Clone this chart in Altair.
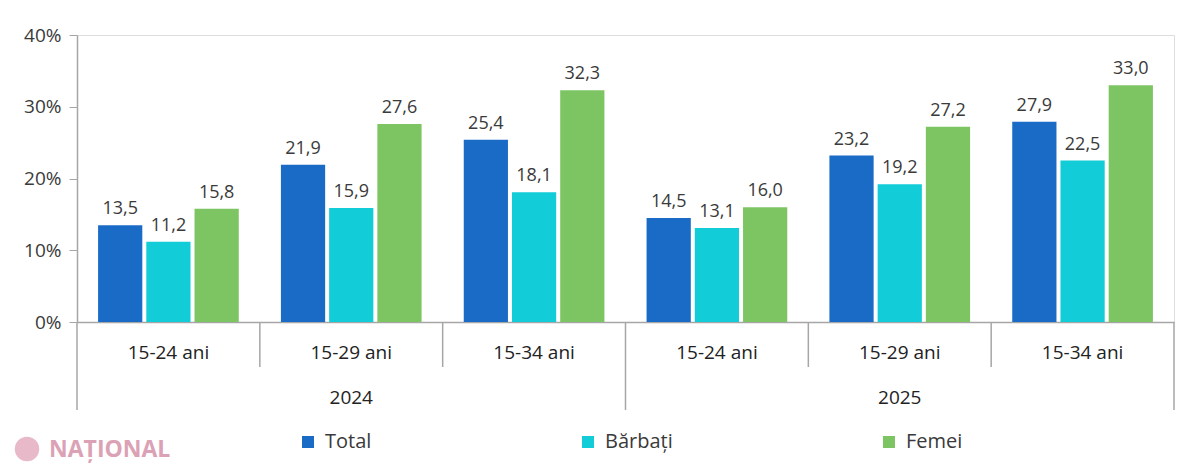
import altair as alt
import pandas as pd

years = ["2024", "2025"]
ages = ["15-24 ani", "15-29 ani", "15-34 ani"]
series = ["Total", "Bărbați", "Femei"]
total = [13.5, 21.9, 25.4, 14.5, 23.2, 27.9]
barbati = [11.2, 15.9, 18.1, 13.1, 19.2, 22.5]
femei = [15.8, 27.6, 32.3, 16.0, 27.2, 33.0]
colors = ["#1A6BC6", "#12CDD8", "#7DC563"]
y_ticks = [0, 10, 20, 30, 40]

W, H = 1097, 287
FONT = "Open Sans"
TXT = "#3A3A3A"
GRAY = "#A6A6A6"

cats, rows, cat_rows = [], [], []
for yi, yr in enumerate(years):
    for ai, ag in enumerate(ages):
        i = yi * len(ages) + ai
        cat = f"{yr} {ag}"
        cats.append(cat)
        cat_rows.append(dict(cat=cat, year=yr, age=ag,
                             kind="outer" if ai == 0 else "inner",
                             mid=(ai == 1)))
        for s, vals in zip(series, [total, barbati, femei]):
            rows.append(dict(cat=cat, year=yr, age=ag, series=s, value=vals[i],
                             label=f"{vals[i]:.1f}".replace(".", ",")))

df = pd.DataFrame(rows)
cdf = pd.DataFrame(cat_rows)

xscale = alt.Scale(domain=cats, paddingInner=0, paddingOuter=0)
xoff = alt.XOffset("series:N", sort=series,
                   scale=alt.Scale(domain=series, paddingInner=0.083, paddingOuter=0.437))
yscale = alt.Scale(domain=[0, 40], nice=False)

bars = alt.Chart(df).mark_bar().encode(
    x=alt.X("cat:N", scale=xscale, sort=cats,
            axis=alt.Axis(labels=False, ticks=False, title=None, domain=True,
                          domainColor=GRAY, domainWidth=1.5)),
    xOffset=xoff,
    y=alt.Y("value:Q", scale=yscale,
            axis=alt.Axis(values=y_ticks, labelExpr="datum.value + '%'", title=None,
                          grid=False, domainColor=GRAY, domainWidth=1.5, tickColor=GRAY,
                          tickSize=8, labelPadding=8, labelFontSize=19, labelColor=TXT,
                          labelFont=FONT)),
    color=alt.Color("series:N", sort=series,
                    scale=alt.Scale(domain=series, range=colors),
                    legend=alt.Legend(title=None, orient="none", direction="horizontal",
                                      legendX=221, legendY=397, symbolType="square",
                                      symbolSize=144, symbolStrokeWidth=0,
                                      columnPadding=206, labelOffset=7,
                                      labelFontSize=20, labelColor=TXT, labelFont=FONT)),
)

values = alt.Chart(df).mark_text(baseline="alphabetic", dy=-11, fontSize=18,
                                 color=TXT, font=FONT).encode(
    x=alt.X("cat:N", scale=xscale, sort=cats),
    xOffset=xoff,
    y=alt.Y("value:Q", scale=yscale),
    text="label:N",
)

inner = alt.Chart(cdf).transform_filter("datum.kind == 'inner'").mark_rule(
    color=GRAY, strokeWidth=1.5).encode(
    x=alt.X("cat:N", scale=xscale, sort=cats, bandPosition=0),
    y=alt.value(H), y2=alt.value(H + 45),
)
outer = alt.Chart(cdf).transform_filter("datum.kind == 'outer'").mark_rule(
    color=GRAY, strokeWidth=1.5).encode(
    x=alt.X("cat:N", scale=xscale, sort=cats, bandPosition=0),
    y=alt.value(H), y2=alt.value(H + 88),
)
end = alt.Chart(cdf).transform_filter(f"datum.cat == '{cats[-1]}'").mark_rule(
    color=GRAY, strokeWidth=1.5).encode(
    x=alt.X("cat:N", scale=xscale, sort=cats, bandPosition=1),
    y=alt.value(H), y2=alt.value(H + 88),
)

age_labels = alt.Chart(cdf).mark_text(baseline="middle", fontSize=19, color="#222222",
                                      font=FONT).encode(
    x=alt.X("cat:N", scale=xscale, sort=cats),
    y=alt.value(H + 31),
    text="age:N",
)
year_labels = alt.Chart(cdf).transform_filter("datum.mid").mark_text(
    baseline="middle", fontSize=19, color="#222222", font=FONT).encode(
    x=alt.X("cat:N", scale=xscale, sort=cats),
    y=alt.value(H + 76),
    text="year:N",
)

logo_df = pd.DataFrame({"t": ["NAȚIONAL"]})
logo_text = alt.Chart(logo_df).mark_text(fontSize=23, fontWeight="bold", color="#DBA2B5",
                                         font=FONT, align="left", baseline="middle").encode(
    x=alt.value(-28), y=alt.value(415), text="t:N")
logo_dot = alt.Chart(logo_df).mark_point(filled=True, shape="circle", size=600,
                                         color="#E2A9BB", opacity=0.8).encode(
    x=alt.value(-50), y=alt.value(414))

chart = alt.layer(bars, values, inner, outer, end, age_labels, year_labels,
                  logo_dot, logo_text).properties(
    width=W, height=H,
    autosize=alt.AutoSizeParams(type="none"),
    padding={"left": 69, "top": 27, "right": 16, "bottom": 146},
).configure_view(stroke=None).configure(background="white")

chart.save("out.html", embed_options={"renderer": "svg", "actions": False})
